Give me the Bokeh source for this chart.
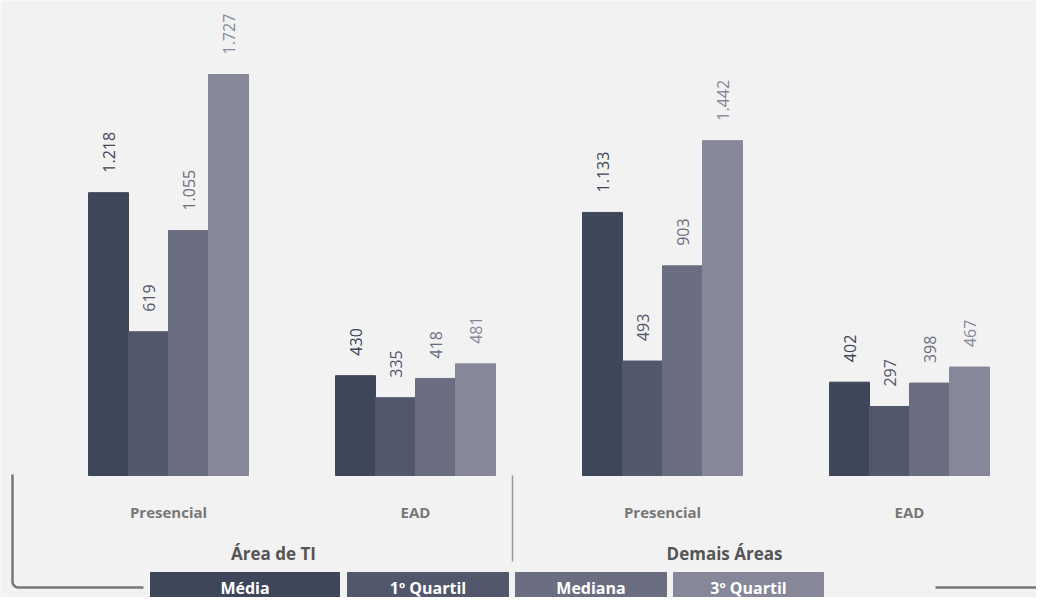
import numpy as np
from bokeh.plotting import figure
from bokeh.models import Range1d, ColumnDataSource
from bokeh.core.properties import value
from bokeh.embed import file_html
from bokeh.resources import INLINE

# ---------------- data ----------------
areas = ["Área de TI", "Demais Áreas"]
categories = ["Presencial", "EAD", "Presencial", "EAD"]
series = ["Média", "1º Quartil", "Mediana", "3º Quartil"]
media = [1218, 430, 1133, 402]
quartil1 = [619, 335, 493, 297]
mediana = [1055, 418, 903, 398]
quartil3 = [1727, 481, 1442, 467]
values = [media, quartil1, mediana, quartil3]
colors = ["#3e4659", "#52576b", "#6b6e80", "#868899"]

# ---------------- layout (pixels) ----------------
W, H = 1036, 597
BASE = 475                # baseline, px from top
PX_PER_UNIT = 401 / 1727
GROUP0 = 88
GROUP_STEP = 247
BAR_W = 40
LEG_Y = 587               # legend / bracket centre line
FONT = value("Open Sans")

p = figure(width=W, height=H, output_backend="svg", toolbar_location=None,
           x_range=Range1d(0, W),
           y_range=Range1d((BASE - H) / PX_PER_UNIT, BASE / PX_PER_UNIT),
           min_border=0, background_fill_color="#f2f2f2", border_fill_color="#f2f2f2",
           outline_line_color=None)
p.extra_y_ranges = {"px": Range1d(H, 0)}
p.xaxis.visible = False
p.yaxis.visible = False
p.grid.visible = False

def fmt(v):
    return f"{v:,}".replace(",", ".")

# bars + value labels
for i, (name, vals, col) in enumerate(zip(series, values, colors)):
    xs = [GROUP0 + GROUP_STEP * g + BAR_W / 2 + BAR_W * i for g in range(len(vals))]
    src = ColumnDataSource(dict(x=xs, top=vals, lab=[fmt(v) for v in vals]))
    p.vbar(x="x", top="top", bottom=0, width=BAR_W, color=col, source=src)
    p.text(x="x", y="top", text="lab", source=src, angle=np.pi / 2,
           text_align="left", text_baseline="middle", y_offset=-20,
           text_font=FONT, text_font_size="16px", text_color=col)

# category labels
cx = [GROUP0 + GROUP_STEP * g + BAR_W * 2 for g in range(len(categories))]
p.text(x=cx, y=[511] * len(cx), text=categories, y_range_name="px",
       text_align="center", text_baseline="middle", text_font=FONT,
       text_font_size="15px", text_font_style="bold", text_color="#777777")

# area labels
p.text(x=[273, 724], y=[553, 553], text=areas, y_range_name="px",
       text_align="center", text_baseline="middle", text_font=FONT,
       text_font_size="17px", text_font_style="bold", text_color="#555555")

# separator
p.line(x=[512, 512], y=[475, 561], y_range_name="px", line_color="#999999", line_width=1.5)

# bracket lines
r = 6
t = np.linspace(np.pi, np.pi / 2, 12)
bx = [12] + list(12 + r + r * np.cos(t)) + [143]
by = [474] + list(LEG_Y - r + r * np.sin(t)) + [LEG_Y]
p.line(x=bx, y=by, y_range_name="px", line_color="#777777", line_width=2.5)
p.line(x=[935, 1060], y=[LEG_Y, LEG_Y], y_range_name="px", line_color="#777777", line_width=2.5)

# legend strip
leg_left = [150, 347, 515, 673]
leg_right = [339, 508, 666, 823]
p.quad(left=leg_left, right=leg_right, top=[LEG_Y - 15] * 4, bottom=[H + 10] * 4,
       color=colors, y_range_name="px")
p.text(x=[(a + b) / 2 for a, b in zip(leg_left, leg_right)], y=[LEG_Y] * 4, text=series,
       y_range_name="px", text_align="center", text_baseline="middle", text_font=FONT,
       text_font_size="16px", text_font_style="bold", text_color="white")

open("out.html", "w").write(file_html(p, INLINE))
